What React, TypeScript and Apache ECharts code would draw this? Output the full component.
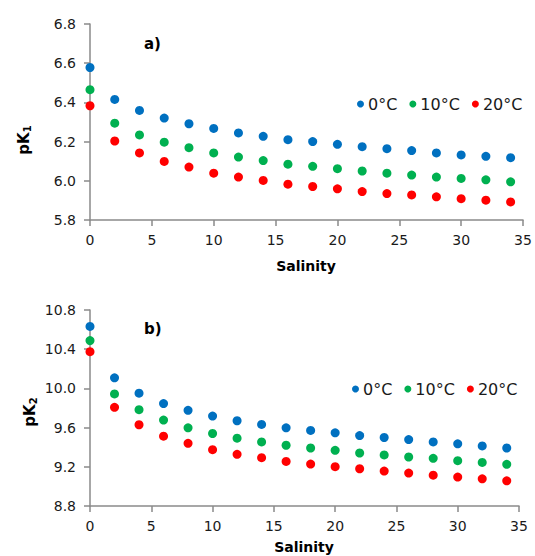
import React, { useEffect, useRef } from "react";
import * as echarts from "echarts";

const salinity = [0, 2, 4, 6, 8, 10, 12, 14, 16, 18, 20, 22, 24, 26, 28, 30, 32, 34];
const seriesNames = ["0°C", "10°C", "20°C"];
const colors = ["#0070C0", "#00B050", "#FF0000"];

const pK1_0C = [6.578, 6.415, 6.359, 6.32, 6.291, 6.267, 6.244, 6.227, 6.21, 6.2, 6.186, 6.174, 6.164, 6.154, 6.142, 6.132, 6.125, 6.118];
const pK1_10C = [6.465, 6.294, 6.234, 6.197, 6.169, 6.142, 6.121, 6.103, 6.085, 6.074, 6.062, 6.05, 6.039, 6.029, 6.019, 6.012, 6.005, 5.995];
const pK1_20C = [6.383, 6.203, 6.142, 6.099, 6.07, 6.039, 6.019, 6.002, 5.983, 5.971, 5.959, 5.945, 5.935, 5.928, 5.918, 5.909, 5.901, 5.892];

const pK2_0C = [10.632, 10.108, 9.951, 9.845, 9.776, 9.718, 9.67, 9.632, 9.598, 9.571, 9.547, 9.519, 9.499, 9.478, 9.454, 9.434, 9.413, 9.392];
const pK2_10C = [10.488, 9.944, 9.783, 9.677, 9.598, 9.54, 9.492, 9.454, 9.42, 9.392, 9.368, 9.341, 9.321, 9.3, 9.286, 9.262, 9.245, 9.225];
const pK2_20C = [10.375, 9.807, 9.629, 9.512, 9.44, 9.375, 9.327, 9.293, 9.255, 9.228, 9.201, 9.18, 9.156, 9.136, 9.115, 9.095, 9.077, 9.057];

const pK1Series = [pK1_0C, pK1_10C, pK1_20C];
const pK2Series = [pK2_0C, pK2_10C, pK2_20C];

const FONT = "DejaVu Sans";
const AXIS_COLOR = "#8a8a8a";
const TEXT_COLOR = "#1a1a1a";

function xAxisCfg(gridIndex: number) {
  return {
    type: "value",
    gridIndex,
    min: 0,
    max: 35,
    interval: 5,
    axisLine: { show: true, lineStyle: { color: AXIS_COLOR, width: 1.5 } },
    axisTick: { show: true, inside: false, length: 6, lineStyle: { color: AXIS_COLOR, width: 1.5 } },
    axisLabel: { color: TEXT_COLOR, fontFamily: FONT, fontSize: 14, margin: 13 },
    splitLine: { show: false },
  };
}

function yAxisCfg(gridIndex: number, min: number, max: number, interval: number) {
  return {
    type: "value",
    gridIndex,
    min,
    max,
    interval,
    axisLine: { show: true, onZero: false, lineStyle: { color: AXIS_COLOR, width: 1.5 } },
    axisTick: { show: true, inside: false, length: 6, lineStyle: { color: AXIS_COLOR, width: 1.5 } },
    axisLabel: {
      color: TEXT_COLOR,
      fontFamily: FONT,
      fontSize: 14,
      margin: 14,
      formatter: (v: number) => v.toFixed(1),
    },
    splitLine: { show: false },
  };
}

function legendCfg(left: number, top: number) {
  return {
    left,
    top,
    orient: "horizontal",
    icon: "circle",
    itemWidth: 7,
    itemHeight: 7,
    itemGap: 12,
    padding: 0,
    data: seriesNames,
    textStyle: { color: TEXT_COLOR, fontFamily: FONT, fontSize: 16, padding: [0, 0, 0, -1] },
  };
}

export default function App() {
  const ref = useRef<HTMLDivElement>(null);

  useEffect(() => {
    if (!ref.current) return;
    const chart = echarts.init(ref.current, undefined, { renderer: "svg" });

    const series: any[] = [];
    pK1Series.forEach((vals, i) => {
      series.push({
        type: "scatter",
        name: seriesNames[i],
        xAxisIndex: 0,
        yAxisIndex: 0,
        symbol: "circle",
        symbolSize: 9,
        itemStyle: { color: colors[i], opacity: 1 },
        data: salinity.map((s, j) => [s, vals[j]]),
      });
    });
    pK2Series.forEach((vals, i) => {
      series.push({
        type: "scatter",
        name: seriesNames[i],
        xAxisIndex: 1,
        yAxisIndex: 1,
        symbol: "circle",
        symbolSize: 9,
        itemStyle: { color: colors[i], opacity: 1 },
        data: salinity.map((s, j) => [s, vals[j]]),
      });
    });

    const subRich = {
      m: { fontFamily: FONT, fontSize: 15, fontWeight: "bold", fill: "#000", color: "#000" },
      s: { fontFamily: FONT, fontSize: 10, fontWeight: "bold", fill: "#000", color: "#000", padding: [6, 0, 0, 0] },
    };

    chart.setOption({
      animation: false,
      backgroundColor: "#ffffff",
      grid: [
        { left: 90, top: 24, width: 433, height: 196 },
        { left: 90, top: 310, width: 429, height: 196 },
      ],
      xAxis: [xAxisCfg(0), xAxisCfg(1)],
      yAxis: [yAxisCfg(0, 5.8, 6.8, 0.2), yAxisCfg(1, 8.8, 10.8, 0.4)],
      legend: [legendCfg(357, 96), legendCfg(352, 381)],
      series,
      graphic: [
        {
          type: "text",
          left: 144,
          top: 36,
          style: { text: "a)", fontFamily: FONT, fontSize: 15, fontWeight: "bold", fill: "#000" },
        },
        {
          type: "text",
          left: 144,
          top: 321,
          style: { text: "b)", fontFamily: FONT, fontSize: 15, fontWeight: "bold", fill: "#000" },
        },
        {
          type: "text",
          x: 306,
          y: 266,
          style: {
            text: "Salinity",
            fontFamily: FONT,
            fontSize: 14,
            fontWeight: "bold",
            fill: "#000",
            align: "center",
            verticalAlign: "middle",
          },
        },
        {
          type: "text",
          x: 304,
          y: 547,
          style: {
            text: "Salinity",
            fontFamily: FONT,
            fontSize: 14,
            fontWeight: "bold",
            fill: "#000",
            align: "center",
            verticalAlign: "middle",
          },
        },
        {
          type: "text",
          x: 24,
          y: 140,
          rotation: Math.PI / 2,
          style: { text: "{m|pK}{s|1}", align: "center", verticalAlign: "middle", rich: subRich },
        },
        {
          type: "text",
          x: 30,
          y: 412,
          rotation: Math.PI / 2,
          style: { text: "{m|pK}{s|2}", align: "center", verticalAlign: "middle", rich: subRich },
        },
      ],
    });

    return () => chart.dispose();
  }, []);

  return (
    <div
      ref={ref}
      style={{ position: "fixed", left: 0, top: 0, width: 535, height: 556, background: "#fff" }}
    />
  );
}
